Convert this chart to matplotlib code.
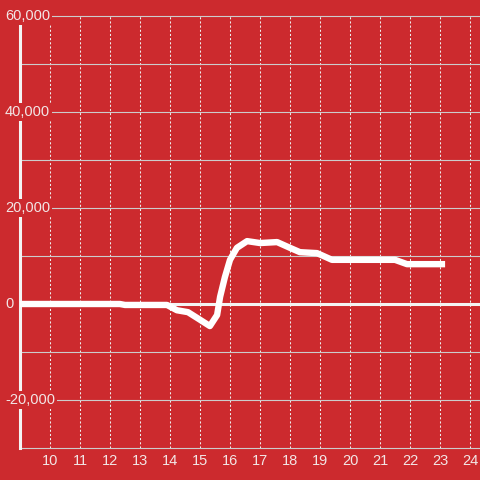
import matplotlib
matplotlib.use("Agg")
import matplotlib.pyplot as plt
import matplotlib.transforms as mtransforms

# Data
hours = [9.0, 12.33, 12.5, 13.9, 14.23, 14.6, 14.93, 15.33, 15.57, 15.67, 15.83, 16.0,
         16.23, 16.57, 17.0, 17.57, 18.0, 18.33, 18.9, 19.4, 19.6, 21.5, 21.9, 23.17]
values = [0, 0, -200, -200, -1300, -1700, -3000, -4600, -2300, 1500, 5600, 9200,
          11700, 13100, 12700, 12900, 11700, 10800, 10600, 9200, 9200, 9200, 8300, 8300]
x_ticks = list(range(10, 25))
y_ticks = [-30000, -20000, -10000, 0, 10000, 20000, 30000, 40000, 50000, 60000]
y_label_vals = [60000, 40000, 20000, 0, -20000]
y_label_txt = ["60,000", "40,000", "20,000", "0", "-20,000"]

BG = "#cc2a2e"
TXT = "#f2e6e6"

plt.rcParams['font.family'] = ['Liberation Sans', 'DejaVu Sans']

fig = plt.figure(figsize=(4.8, 4.8), dpi=100, facecolor=BG)
ax = fig.add_axes([20/480, 32/480, 460/480, 432/480])
ax.set_facecolor(BG)

ax.set_xlim(9, 9 + 460/30)
ax.set_ylim(-30000, 60000)

ax.set_xticks(x_ticks)
ax.set_xticklabels([str(t) for t in x_ticks])
ax.set_yticks(y_ticks)
ax.set_yticklabels([])
ax.tick_params(axis='both', length=0)
ax.tick_params(axis='x', colors=TXT, labelsize=10.5, pad=4)

ax.xaxis.grid(True, color="#eeeeee", lw=0.75, linestyle=(0, (2, 2)))
ax.yaxis.grid(True, color="#cccccc", lw=0.8)
for gl in ax.get_ygridlines():
    gl.set_clip_on(False)
ax.set_axisbelow(True)

for s in ['top', 'right', 'bottom']:
    ax.spines[s].set_visible(False)
ax.spines['left'].set_color("#f4f4f4")
ax.spines['left'].set_linewidth(2.2)
ax.spines['left'].set_zorder(2.5)

ax.axhline(0, color="#f4f4f4", lw=2.2, zorder=2.6)

ax.plot(hours, values, color="white", lw=4.6, solid_joinstyle='round',
        solid_capstyle='butt', zorder=4)

trans = mtransforms.blended_transform_factory(fig.transFigure, ax.transData)
for v, t in zip(y_label_vals, y_label_txt):
    ax.text(5/480, v, t, transform=trans, ha='left', va='center', color=TXT,
            fontsize=10.5, zorder=5, clip_on=False,
            bbox=dict(facecolor=BG, edgecolor='none', pad=1.5))

fig.savefig("out.png", dpi=100, facecolor=BG)
